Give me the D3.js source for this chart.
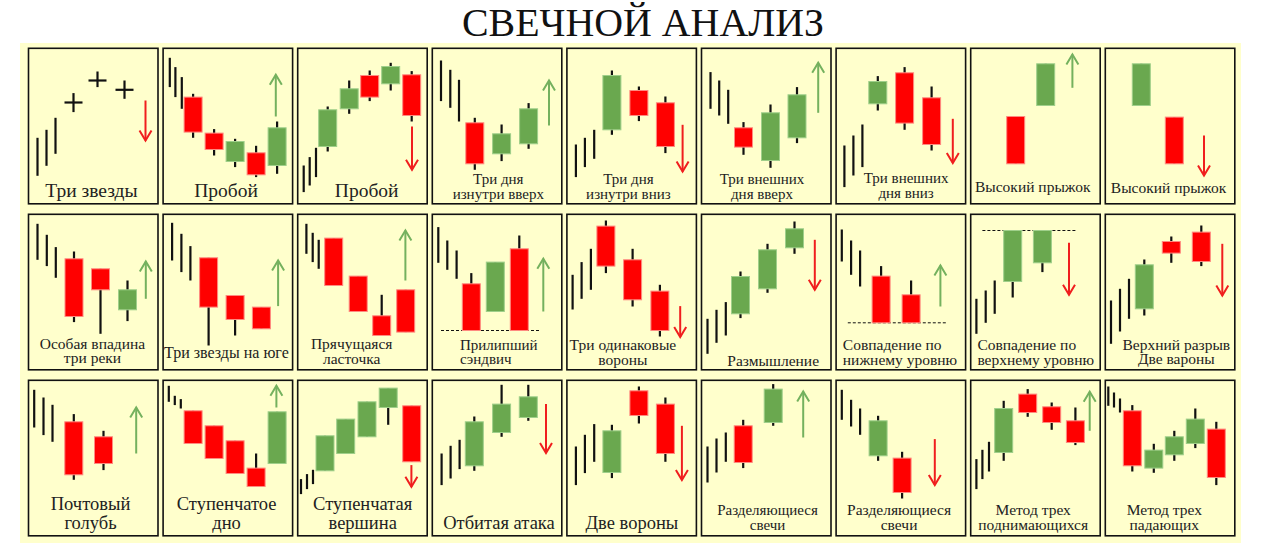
<!DOCTYPE html>
<html><head><meta charset="utf-8">
<script src="https://cdn.jsdelivr.net/npm/d3@7"></script>
<style>html,body{margin:0;padding:0;background:#fff}svg{display:block}</style>
</head><body>
<svg id="chart" width="1262" height="545" font-family="&quot;Liberation Serif&quot;"></svg>
<script>
// ---------- DATA ----------
const chartTitle = "СВЕЧНОЙ АНАЛИЗ";

const titles = [
  "Три звезды", "Пробой", "Пробой", "Три дня\nизнутри вверх", "Три дня\nизнутри вниз",
  "Три внешних\nдня вверх", "Три внешних\nдня вниз", "Высокий прыжок", "Высокий прыжок",
  "Особая впадина\nтри реки", "Три звезды на юге", "Прячущаяся\nласточка", "Прилипший\nсэндвич",
  "Три одинаковые\nвороны", "Размышление", "Совпадение по\nнижнему уровню",
  "Совпадение по\nверхнему уровню", "Верхний разрыв\nДве вароны",
  "Почтовый\nголубь", "Ступенчатое\nдно", "Ступенчатая\nвершина", "Отбитая атака", "Две вороны",
  "Разделяющиеся\nсвечи", "Разделяющиеся\nсвечи", "Метод трех\nподнимающихся", "Метод трех\nпадающих"
];

// preceding trend bars per pattern: [time, high, low]
const trendBars = [
  [[9,66,28],[18,74,38],[27,86,50]],
  [[6.7,146,116.7],[12.3,136.7,106.7],[18.7,126.7,95]],
  [[6,38.3,11.7],[12,46.7,18.3],[18.3,56,26.7]],
  [[8.7,143.3,102.7],[18,134,96],[26.7,124,82.3]],
  [[9,59.3,26.7],[18,66,36.7],[27.3,74,45]],
  [[9,131.7,95],[17.7,123.3,88.3],[26.7,114,80]],
  [[8.3,58.3,16.7],[17.3,68.3,28.3],[26.3,79.3,36.7]],
  [],
  [],
  [[9,146,110],[18.3,135,103.7],[27.3,122.7,92]],
  [[9,147,109.3],[18.3,136,97.7],[27.3,123.7,89.3]],
  [[8.7,146,116],[15,137,107.7],[21,130,101]],
  [[6,142.7,107],[15,129.3,100],[24.3,119.3,91]],
  [[5.7,95,60.3],[14.7,107.7,71],[24,121,80]],
  [[6,51,16],[15,60,27],[24.3,67.7,34.3]],
  [[5.7,140.3,108.3],[15,129.3,95],[24,119.3,83.3]],
  [[5.7,71,36],[15,79.3,47],[24,89.3,56]],
  [[5.7,69.3,26],[14.7,81,38.3],[23.7,91,51]],
  [[5.7,146,108.3],[15,138.3,100.7],[24,131,94]],
  [[5.7,150,134],[11.7,140,130.7],[17.7,136.7,127.3]],
  [[3.3,56.7,41.7],[9.3,61.7,46.7],[15.3,66,51.7]],
  [[9.3,82.3,50.7],[18.3,90,57.3],[27.3,96,66.7]],
  [[9,89.3,50.7],[18,101,62.7],[27.3,111.7,74]],
  [[6,89.3,53.3],[15,97.3,63.3],[24.3,103.3,74]],
  [[5.7,146,116],[15,136,109.3],[24,127.3,101]],
  [[5.7,76.7,46.7],[11.7,86,56.7],[18.3,94,64.3]],
  [[3,149.3,130],[8.7,143.3,128.3],[14.7,137.3,123.3]]
];

// candles per pattern: [time, open, high, low, close]
const candles = [
  [[45,101.3,110.7,91.7,101.3],[69,123.3,132.3,116.7,123.3],[96,114,123.3,105,114]],
  [[30,106.7,110,66,71.7],[51,70.7,74.7,48.3,54.3],[72,42.3,65,36.7,62.3],[93,51,58,26.7,29],[114,38.3,82.3,30,76]],
  [[30,57.3,97.3,52.3,94],[51.5,95,123.3,90,115],[72,128.3,133.3,102.7,106.7],[93,120,141,113.3,137.3],[114,129,132.7,82.3,88.3]],
  [[42.5,81,86,34,40],[69.3,50,79.3,42.7,70],[96.3,60,100.7,55,95]],
  [[45,74,133.3,69,128.3],[72,113.3,117.3,82.7,88.3],[98.5,101,107.3,50.7,57.3]],
  [[42,76,81.7,49,56.7],[69,43.3,99.3,36,91],[95.5,66,116.7,60.7,109]],
  [[41.7,100,127.7,93.3,122.3],[68.5,131,136.7,74,80.7],[95.5,106,117.3,53.3,59.3]],
  [[45,87.3,87.3,40,40],[75,98.3,140,98.3,140]],
  [[36,98.3,140,98.3,140],[69,86.7,86.7,40,40]],
  [[45.5,111,118.3,47.7,53.3],[72,101,101,36,80],[99,60,89.3,48.7,80]],
  [[45.5,112,112,24.3,62.7],[72,74.3,74.3,34.3,50.3],[98.3,62.7,62.7,41,41]],
  [[36,131.7,131.7,84.3,84.3],[60.5,93.7,93.7,58.3,58.3],[84,54,75,34.3,34.3],[108,80,80,37.7,37.7]],
  [[39,86,96.7,39.3,39.3],[63,58.3,107.7,58.3,107.7],[87,121,134.3,39.3,39.3]],
  [[39,143.7,149.3,96.7,103.7],[65.7,110,121,63.3,70],[93,78.7,85,33.3,39.3]],
  [[39,56,98.3,51.7,93.3],[66,81,126,77,120],[93,122,148.3,116,141]],
  [[45,93.7,103.7,47,47],[75,75,89.3,47,47]],
  [[42,88.3,139.3,72.3,139.3],[71.7,107,139.3,97.7,139.3]],
  [[39,61,110.3,54.3,105],[66,128.3,133.3,107,116.7],[96,137.7,144.3,103.7,108.3]],
  [[45.3,114,121.7,56,61],[75,99,105,65.7,72.3]],
  [[30,125,125,92.3,92.3],[51,110,110,77.3,77.3],[72,95,95,62.3,62.3],[93,67.7,82.3,49.3,49.3],[114,72.3,124,72.3,124]],
  [[27.3,65,100,65,100],[48,82.3,116.7,82.3,116.7],[69.3,99,134,99,134],[90.5,128.3,147.7,111,147.7],[114,130,130,74,74]],
  [[42,70,119.3,65,114],[69.3,103.3,151,99,131.7],[96,118.3,151,115,139]],
  [[45,63.3,111,57.7,105],[72,145,149.3,112.3,120.3],[98.5,131.7,138.3,74,82.3]],
  [[41.7,110,116,67.7,73.3],[71.7,113.3,151.7,110,146.7]],
  [[42,80,120,75,115],[66,77.7,84,37.3,43.3]],
  [[33,83.3,135,75,127.3],[57,141.7,146.7,119,123.3],[81,129,133.3,106,113.3],[104.7,115,128.3,90.7,93.3]],
  [[27,125,130.7,64.3,70],[48.5,67.7,92,63,85.7],[69,81,105,75,99],[90,92.3,127.3,87.7,116.7],[111,106.7,114,50.7,58.3]]
];

// expected move arrows: [time, fromPrice, toPrice] (null = none)
const arrows = [
  [117,103.3,63.3],[112.7,87.3,129],[114.3,77.3,34],[116.7,78.3,123.3],[115.7,79,32.3],
  [116.7,91,141],[116.7,85,40.7],[101.7,116,149.3],[98.7,68.3,28.3],
  [117.3,71,108.3],[115,63.7,109.3],[107.7,89.3,139.3],[111,58.3,111],[113.3,63.7,32.7],
  [113.3,130,80],[104.3,63.3,104.3],[98.3,127,75],[117,126,74.3],
  [107.7,82.3,128.3],[113.3,128.3,150],[113.7,70.7,49],[113.7,131.7,82.7],[115,110,55.7],
  [101.7,98.3,144.3],[98.7,96.7,50.7],[119,105,144],null
];

// dashed support/resistance levels: [timeFrom, timeTo, price]
const levels = [
  null,null,null,null,null,null,null,null,null,
  null,null,null,[8.7,107.7,39.3],null,null,[11.7,110,47],[11.7,105,139.3],null,
  null,null,null,null,null,null,null,null,null
];

// ---------- LAYOUT / STYLE ----------
// label style per panel: [fontSize, anchor, x, baseline1, baseline2]
const labelStyle = [
  [19.5,"middle",63,149],[19.5,"middle",63,149],[19.5,"middle",69,149],
  [15,"middle",66,136,151],[15,"middle",61.5,136,151],[15,"middle",60.5,136,151],
  [15,"middle",70,135,150],[15.5,"middle",62,143.5],[15.5,"middle",63.3,144.5],
  [15.5,"middle",64,134.5,149],[16,"middle",63.3,144],[15.5,"middle",54,135,150],
  [15,"start",27.7,135.3,150],[15.5,"middle",56,135.5,151],[15.5,"middle",71.7,151.5],
  [15.5,"start",6.7,135.5,151],[15.5,"start",6.7,135.5,151],[15.5,"middle",71,135.5,150],
  [18.5,"middle",62,130,149],[18.5,"middle",63.5,130,149],[18.5,"middle",65,130,149],
  [18.5,"middle",66.7,149],[18.5,"middle",65,149],[15,"middle",66,134.3,149.3],
  [15.5,"middle",63,134.3,149.3],[15.5,"middle",62.5,134.3,149.3],[15.5,"middle",59,134.3,149.3]
];

const W = 1262, H = 545;
const cols = 9;
const panelW = 129.5, panelH = 155.5;
const bodyW = 18;
const GREEN = "#6aa84f", GREEN_EDGE = "#9fcf8a", GREEN_ARROW = "#74b15e";
const RED = "#ff0000", RED_EDGE = "#ff8a80", RED_ARROW = "#f01e1e";
const INK = "#111";
const FONT = '"Liberation Serif"';

const svg = d3.select("#chart");

svg.append("rect").attr("x",0).attr("y",0).attr("width",W).attr("height",H).attr("fill","#fff");
svg.append("rect").attr("x",20).attr("y",43).attr("width",1221).attr("height",500).attr("fill","#ffffcc");

svg.append("text")
  .attr("x", 643).attr("y", 36)
  .attr("text-anchor","middle")
  .attr("font-family", FONT)
  .attr("font-size", 40)
  .attr("textLength", 362).attr("lengthAdjust","spacingAndGlyphs")
  .attr("fill","#111")
  .text(chartTitle);

const colScale = d3.scaleLinear().domain([0, cols]).range([28.5, 28.5 + cols*134.6]);
const rowScale = d3.scaleLinear().domain([0, 3]).range([48.3, 48.3 + 3*166]);

titles.forEach((name, i) => {
  const px = colScale(i % cols), py = rowScale(Math.floor(i / cols));
  const x = d3.scaleLinear().domain([0, 129.5]).range([px, px + panelW]);
  const y = d3.scaleLinear().domain([0, 155.5]).range([py + panelH, py]);
  const g = svg.append("g").attr("class","panel");

  g.append("rect").attr("x", px).attr("y", py).attr("width", panelW).attr("height", panelH)
    .attr("fill","#ffffcc").attr("stroke", INK).attr("stroke-width", 1.6);

  g.selectAll("line.trend").data(trendBars[i]).join("line").attr("class","trend")
    .attr("x1", d => x(d[0])).attr("x2", d => x(d[0]))
    .attr("y1", d => y(d[1])).attr("y2", d => y(d[2]))
    .attr("stroke", INK).attr("stroke-width", 2.2);

  if (levels[i]) {
    const l = levels[i];
    g.append("line").attr("x1", x(l[0])).attr("x2", x(l[1])).attr("y1", y(l[2])).attr("y2", y(l[2]))
      .attr("stroke", INK).attr("stroke-width", 1).attr("stroke-dasharray","3,2");
  }

  const cg = g.selectAll("g.candle").data(candles[i]).join("g").attr("class","candle");
  cg.append("line")
    .attr("x1", d => x(d[0])).attr("x2", d => x(d[0]))
    .attr("y1", d => y(d[2])).attr("y2", d => y(d[3]))
    .attr("stroke", INK).attr("stroke-width", 2.2);
  cg.filter(d => d[1] !== d[4]).append("rect")
    .attr("x", d => x(d[0]) - bodyW/2).attr("width", bodyW)
    .attr("y", d => y(Math.max(d[1], d[4])))
    .attr("height", d => Math.abs(y(d[1]) - y(d[4])))
    .attr("fill", d => d[4] > d[1] ? GREEN : RED)
    .attr("stroke", d => d[4] > d[1] ? GREEN_EDGE : RED_EDGE).attr("stroke-width", 1);
  cg.filter(d => d[1] === d[4]).append("line")
    .attr("x1", d => x(d[0]) - bodyW/2).attr("x2", d => x(d[0]) + bodyW/2)
    .attr("y1", d => y(d[1])).attr("y2", d => y(d[1]))
    .attr("stroke", INK).attr("stroke-width", 2.2);

  if (arrows[i]) {
    const a = arrows[i];
    const up = a[2] > a[1];
    const col = up ? GREEN_ARROW : RED_ARROW;
    const ax = x(a[0]), y0 = y(a[1]), y1 = y(a[2]);
    const back = up ? 10 : -10;
    g.append("line").attr("x1", ax).attr("x2", ax).attr("y1", y0).attr("y2", y1)
      .attr("stroke", col).attr("stroke-width", 2);
    g.append("path")
      .attr("d", `M${ax-6},${y1+back}L${ax},${y1}L${ax+6},${y1+back}`)
      .attr("fill","none").attr("stroke", col).attr("stroke-width", 2);
  }

  const st = labelStyle[i];
  const lines = name.split("\n");
  const t = g.append("text").attr("font-family", FONT).attr("font-size", st[0])
    .attr("text-anchor", st[1]).attr("fill", "#222");
  lines.forEach((ln, k) => {
    t.append("tspan").attr("x", px + st[2]).attr("y", py + st[3 + k]).text(ln);
  });
});
</script>
</body></html>
